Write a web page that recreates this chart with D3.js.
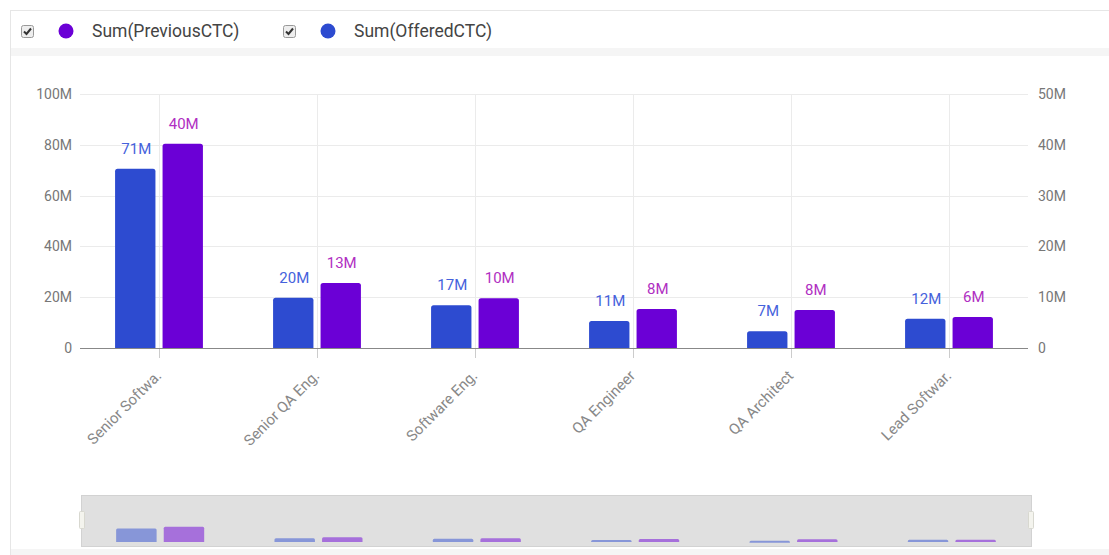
<!DOCTYPE html>
<html><head><meta charset="utf-8">
<script src="https://cdn.jsdelivr.net/npm/d3@7/dist/d3.min.js"></script>
<style>
body{margin:0;background:#fff;font-family:Roboto,"Noto Sans",sans-serif;}
svg text{font-family:Roboto,"Noto Sans",sans-serif;}
</style></head>
<body><svg id="c" width="1109" height="555"></svg>
<script>
const categories = ["Senior Softwa.", "Senior QA Eng.", "Software Eng.", "QA Engineer", "QA Architect", "Lead Softwar."];
const offeredCTC = [70.6e6, 19.8e6, 16.8e6, 10.6e6, 6.6e6, 11.5e6];   // left axis
const previousCTC = [40.2e6, 12.8e6, 9.8e6, 7.7e6, 7.5e6, 6.1e6];    // right axis
const leftTicks = [0, 20e6, 40e6, 60e6, 80e6, 100e6];
const rightTicks = [0, 10e6, 20e6, 30e6, 40e6, 50e6];
const seriesNames = ["Sum(PreviousCTC)", "Sum(OfferedCTC)"];

const BLUE = "#2d4bd0", PURPLE = "#6b00d6";
const svg = d3.select("#c");

// container frame
svg.append("rect").attr("x",10.5).attr("y",10.5).attr("width",1120).attr("height",560).attr("fill","#fff").attr("stroke","#e6e6e6");
svg.append("rect").attr("x",11).attr("y",48).attr("width",1100).attr("height",8).attr("fill","#f5f5f5");
svg.append("rect").attr("x",11).attr("y",549).attr("width",1100).attr("height",8).attr("fill","#f5f5f5");

// legend
const legendItems = [{name: seriesNames[0], color: PURPLE, x: 21}, {name: seriesNames[1], color: BLUE, x: 283}];
legendItems.forEach(it => {
  const g = svg.append("g").attr("transform", `translate(${it.x},25)`);
  g.append("rect").attr("x",0.5).attr("y",0.5).attr("width",12).attr("height",12).attr("rx",2)
    .attr("fill","#eee").attr("stroke","#999");
  g.append("path").attr("d","M3,6.5 L5.5,9 L10,3.5").attr("fill","none").attr("stroke","#333").attr("stroke-width",2);
  g.append("circle").attr("cx",45).attr("cy",6).attr("r",7.5).attr("fill",it.color);
  g.append("text").attr("x",71).attr("y",12).attr("font-size",17.5).attr("fill","#444").text(it.name);
});

// scales
const pLeft = 80, pRight = 1028, pTop = 94, pBottom = 348;
const x0 = d3.scaleBand().domain(categories).range([pLeft, pRight]).paddingInner(0.444).paddingOuter(0.222);
const x1 = d3.scaleBand().domain(["offered","previous"]).range([0, x0.bandwidth()]).paddingInner(0.15).paddingOuter(0);
const yL = d3.scaleLinear().domain([0, 100e6]).range([pBottom, pTop]);
const yR = d3.scaleLinear().domain([0, 50e6]).range([pBottom, pTop]);
const fmtM = v => v === 0 ? "0" : Math.round(v/1e6) + "M";

// grid
const grid = svg.append("g");
grid.selectAll("line.h").data(leftTicks.filter(t=>t>0)).join("line")
  .attr("x1",pLeft).attr("x2",pRight).attr("y1",d=>Math.round(yL(d))+0.5).attr("y2",d=>Math.round(yL(d))+0.5)
  .attr("stroke","#ebebeb");
grid.selectAll("line.v").data(categories).join("line")
  .attr("x1",d=>Math.round(x0(d)+x0.bandwidth()/2)+0.5).attr("x2",d=>Math.round(x0(d)+x0.bandwidth()/2)+0.5)
  .attr("y1",pTop).attr("y2",pBottom).attr("stroke","#ebebeb");

// left axis
const axL = d3.axisLeft(yL).tickValues(leftTicks).tickFormat(fmtM).tickSize(0).tickPadding(8);
const gL = svg.append("g").attr("transform",`translate(${pLeft},0)`).call(axL);
gL.select(".domain").remove();
gL.selectAll("text").attr("font-size",14).attr("fill","#777");

// right axis
const axR = d3.axisRight(yR).tickValues(rightTicks).tickFormat(fmtM).tickSize(0).tickPadding(10);
const gR = svg.append("g").attr("transform",`translate(${pRight},0)`).call(axR);
gR.select(".domain").remove();
gR.selectAll("text").attr("font-size",14).attr("fill","#777");

// bottom axis
const xPt = d3.scalePoint().domain(categories).range([x0(categories[0])+x0.bandwidth()/2, x0(categories[categories.length-1])+x0.bandwidth()/2]);
const axB = d3.axisBottom(xPt).tickSize(10).tickPadding(4);
const gB = svg.append("g").attr("transform",`translate(0,${pBottom})`).call(axB);
gB.select(".domain").remove();
gB.selectAll(".tick line").attr("stroke","#ccc");
gB.selectAll("text").attr("font-size",15).attr("fill","#888")
  .attr("text-anchor","end").attr("transform","translate(-1,25) rotate(-45)").attr("dy","0.35em").attr("y",0).attr("x",0);
svg.append("line").attr("x1",pLeft).attr("x2",pRight).attr("y1",pBottom+0.5).attr("y2",pBottom+0.5).attr("stroke","#888");

// bars
function topRounded(x, y, w, h, r) {
  r = Math.min(r, h, w/2);
  return `M${x},${y+h} V${y+r} Q${x},${y} ${x+r},${y} H${x+w-r} Q${x+w},${y} ${x+w},${y+r} V${y+h} Z`;
}
const rows = categories.map((c,i)=>({c, off: offeredCTC[i], prev: previousCTC[i]}));
const bars = svg.append("g");
bars.selectAll("path.off").data(rows).join("path")
  .attr("d", d => topRounded(x0(d.c)+x1("offered"), yL(d.off), x1.bandwidth(), pBottom - yL(d.off), 2.5))
  .attr("fill", BLUE);
bars.selectAll("path.prev").data(rows).join("path")
  .attr("d", d => topRounded(x0(d.c)+x1("previous"), yR(d.prev), x1.bandwidth(), pBottom - yR(d.prev), 2.5))
  .attr("fill", PURPLE);
bars.selectAll("text.off").data(rows).join("text")
  .attr("x", d => x0(d.c)+x1("offered")+x1.bandwidth()/2+1).attr("y", d => yL(d.off)-15)
  .attr("text-anchor","middle").attr("font-size",15).attr("fill","#4562dc").text(d=>fmtM(d.off));
bars.selectAll("text.prev").data(rows).join("text")
  .attr("x", d => x0(d.c)+x1("previous")+x1.bandwidth()/2+1).attr("y", d => yR(d.prev)-15)
  .attr("text-anchor","middle").attr("font-size",15).attr("fill","#b02fc2").text(d=>fmtM(d.prev));

// navigator / brush
const nTop = 495, nBot = 546, nLeft = 81, nRight = 1031;
svg.append("rect").attr("x",nLeft+0.5).attr("y",nTop+0.5).attr("width",nRight-nLeft).attr("height",nBot-nTop)
  .attr("fill","#e0e0e0").attr("stroke","#d2d2d2");
const xn0 = d3.scaleBand().domain(categories).range([nLeft, nRight]).paddingInner(0.444).paddingOuter(0.222);
const xn1 = d3.scaleBand().domain(["offered","previous"]).range([0, xn0.bandwidth()]).paddingInner(0.15);
const nBase = 542;
const ynL = d3.scaleLinear().domain([0,100e6]).range([nBase, nBase-19]);
const ynR = d3.scaleLinear().domain([0,50e6]).range([nBase, nBase-19]);
const nav = svg.append("g");
nav.selectAll("path.noff").data(rows).join("path")
  .attr("d", d => topRounded(xn0(d.c)+xn1("offered"), ynL(d.off), xn1.bandwidth(), Math.max(2, nBase-ynL(d.off)), 1.5))
  .attr("fill", BLUE).attr("opacity",0.5);
nav.selectAll("path.nprev").data(rows).join("path")
  .attr("d", d => topRounded(xn0(d.c)+xn1("previous"), ynR(d.prev), xn1.bandwidth(), Math.max(2, nBase-ynR(d.prev)), 1.5))
  .attr("fill", PURPLE).attr("opacity",0.5);
[nLeft-2, nRight-3].forEach(hx => {
  svg.append("rect").attr("x",hx+0.5).attr("y",511.5).attr("width",5).attr("height",17).attr("rx",1)
    .attr("fill","#f4f4ee").attr("stroke","#d8d8d0");
});
</script></body></html>
